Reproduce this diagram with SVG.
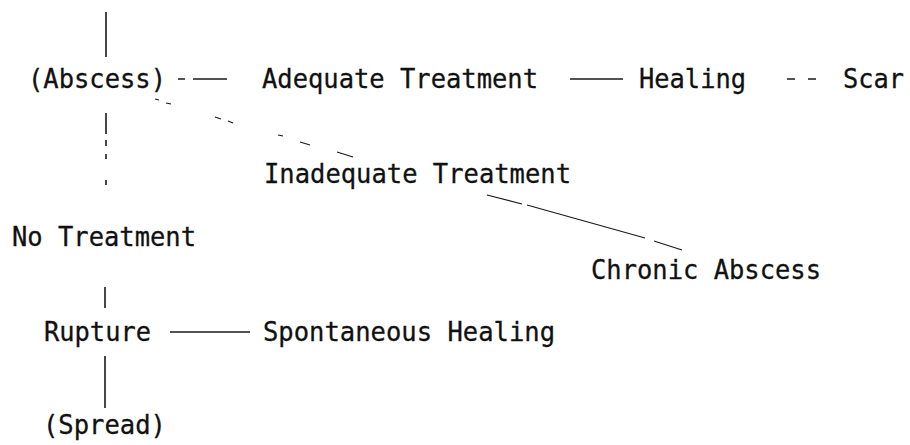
<svg xmlns="http://www.w3.org/2000/svg" width="910" height="445" viewBox="0 0 910 445">
<style>
text{font-family:"DejaVu Sans Mono","Liberation Mono",monospace;font-size:27px;fill:#111;stroke:#111;stroke-width:0.3}
.c{stroke:#1a1a1a;stroke-width:1.6;fill:none}
.t{stroke-width:1.2}
</style>
<rect width="910" height="445" fill="#fff"/>
<g id="connectors">
<line class="c" x1="106" y1="12" x2="106" y2="57"/>
<path class="c" d="M106 113V134M106 140V146M106 154V159M106 180V185"/>
<path class="c" d="M178 79H185M193 79H227"/>
<line class="c" x1="570" y1="79" x2="623" y2="79"/>
<path class="c" d="M787 79H795M808 79H816"/>
<path class="c t" d="M155 99L159 100M166 103L171 104M215 117L221 119M228 121L233 123M278 135L283 136M300 142L310 145M337 152L353 157"/>
<path class="c t" d="M487 195L522 204M527 205L645 238M654 241L682 250"/>
<line class="c" x1="105" y1="287" x2="105" y2="308"/>
<line class="c" x1="170" y1="332" x2="250" y2="332"/>
<line class="c" x1="105" y1="356" x2="105" y2="408"/>
</g>
<g id="abscess"><text x="28" y="88" textLength="138" lengthAdjust="spacingAndGlyphs">(Abscess)</text></g>
<g id="adequate"><text x="262" y="88" textLength="276" lengthAdjust="spacingAndGlyphs">Adequate Treatment</text></g>
<g id="healing"><text x="639" y="88" textLength="107" lengthAdjust="spacingAndGlyphs">Healing</text></g>
<g id="scar"><text x="843" y="88" textLength="61" lengthAdjust="spacingAndGlyphs">Scar</text></g>
<g id="inadequate"><text x="264" y="183" textLength="307" lengthAdjust="spacingAndGlyphs">Inadequate Treatment</text></g>
<g id="chronic"><text x="591" y="279" textLength="230" lengthAdjust="spacingAndGlyphs">Chronic Abscess</text></g>
<g id="notreatment"><text x="12" y="246" textLength="184" lengthAdjust="spacingAndGlyphs">No Treatment</text></g>
<g id="rupture"><text x="44" y="341" textLength="107" lengthAdjust="spacingAndGlyphs">Rupture</text></g>
<g id="spontaneous"><text x="263" y="341" textLength="292" lengthAdjust="spacingAndGlyphs">Spontaneous Healing</text></g>
<g id="spread"><text x="43" y="434" textLength="123" lengthAdjust="spacingAndGlyphs">(Spread)</text></g>
</svg>
